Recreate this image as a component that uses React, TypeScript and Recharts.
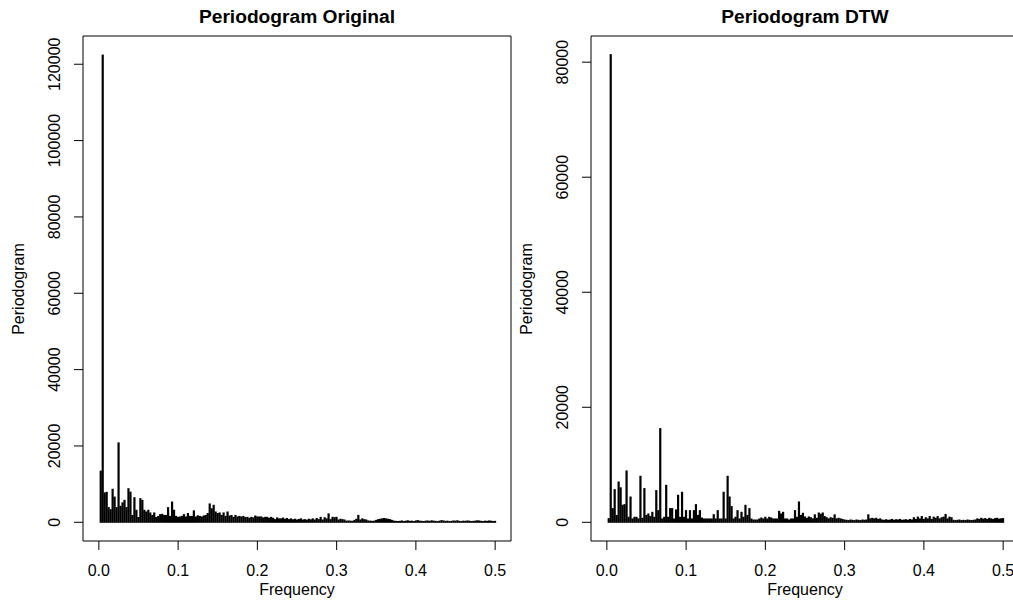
import { BarChart, Bar, XAxis, YAxis, ReferenceArea } from 'recharts';

// periodogram ordinates, one per Fourier frequency (step 0.0025, from 0.0025 to 0.5)
const FREQ_STEP = 0.0025;

const freqTicks = [0, 0.1, 0.2, 0.3, 0.4, 0.5];
const origTicks = [0, 20000, 40000, 60000, 80000, 100000, 120000];
const dtwTicks = [0, 20000, 40000, 60000, 80000];

const origPower = [
  13400, 122400, 7700, 7850, 3850, 3300, 8650, 6600, 3850, 20800,
  4200, 5100, 5750, 3850, 8800, 7900, 1800, 6450, 3150, 1250,
  6200, 5750, 3150, 2700, 3150, 2450, 1800, 2450, 1250, 1550,
  2000, 2100, 1800, 1800, 3850, 1550, 5300, 3150, 1550, 1300,
  1400, 1550, 2000, 1400, 2300, 1550, 1550, 3000, 1400, 1700,
  1550, 1400, 1650, 1800, 2300, 4800, 3550, 4450, 2700, 2300,
  2450, 1800, 2450, 1550, 2700, 1650, 1800, 1300, 1800, 1400,
  1550, 1400, 1550, 1250, 1300, 1050, 1300, 1150, 1650, 1400,
  1400, 1400, 1150, 1300, 1300, 1050, 1300, 1050, 700, 1150,
  900, 900, 1100, 800, 1000, 700, 900, 650, 800, 600,
  750, 900, 600, 700, 550, 800, 650, 900, 600, 1000,
  700, 1300, 600, 1200, 900, 2200, 700, 1300, 1200, 1300,
  600, 800, 700, 600, 300, 350, 300, 250, 500, 800,
  1800, 600, 900, 700, 600, 350, 300, 250, 300, 500,
  700, 800, 900, 1000, 900, 800, 700, 500, 300, 250,
  200, 250, 350, 200, 300, 400, 250, 300, 200, 350,
  450, 300, 250, 200, 300, 350, 250, 400, 300, 250,
  200, 300, 450, 350, 250, 300, 200, 250, 350, 300,
  400, 250, 200, 300, 250, 350, 300, 200, 250, 300,
  400, 350, 250, 200, 300, 250, 350, 300, 200, 250,
];

const dtwPower = [
  640, 81300, 2380, 5680, 1200, 7010, 6000, 2960, 3070, 8930,
  870, 4400, 580, 870, 870, 600, 8000, 700, 5860, 1200,
  1450, 1000, 1740, 870, 5510, 2030, 16290, 580, 870, 6430,
  870, 2380, 2380, 580, 2150, 4700, 870, 5220, 870, 2030,
  580, 2030, 580, 2030, 3070, 1200, 2030, 750, 580, 580,
  580, 580, 580, 1330, 580, 2030, 580, 580, 5220, 580,
  8000, 4400, 2730, 580, 870, 2030, 580, 1740, 870, 2960,
  1200, 2380, 580, 400, 400, 400, 580, 750, 580, 870,
  580, 870, 750, 580, 580, 580, 1910, 1450, 1740, 580,
  580, 400, 580, 580, 2030, 870, 3530, 1200, 1570, 930,
  700, 930, 800, 600, 1300, 700, 1620, 1400, 1620, 1000,
  800, 600, 800, 700, 1300, 600, 700, 600, 500, 400,
  350, 300, 400, 350, 300, 400, 350, 300, 400, 350,
  400, 1300, 600, 700, 600, 700, 500, 600, 400, 350,
  450, 350, 400, 500, 350, 450, 400, 500, 350, 400,
  450, 350, 500, 400, 800, 500, 900, 600, 1000, 500,
  800, 600, 1000, 500, 900, 700, 1000, 600, 800, 900,
  1370, 600, 900, 800, 350, 300, 350, 400, 300, 350,
  300, 400, 350, 300, 350, 400, 600, 500, 700, 550,
  650, 500, 700, 600, 500, 650, 700, 550, 600, 650,
];

const FONT = '"Liberation Sans", Arial, Helvetica, sans-serif';

const toRows = (power: number[]) =>
  power.map((p, i) => ({ freq: +(FREQ_STEP * (i + 1)).toFixed(4), power: p }));

const XTick = (props: any) => {
  const { x, payload } = props;
  return (
    <text x={x} y={576} textAnchor="middle" fontSize={16} fontFamily={FONT} fill="#000">
      {Number(payload.value).toFixed(1)}
    </text>
  );
};

const YTick = (props: any) => {
  const { y, payload } = props;
  return (
    <text
      x={55}
      y={y}
      transform={`rotate(-90 55 ${y})`}
      textAnchor="middle"
      dominantBaseline="central"
      fontSize={16}
      fontFamily={FONT}
      fill="#000"
    >
      {payload.value}
    </text>
  );
};

const AxisTitle = ({ px, py, text, vertical }: any) => (
  <text
    x={px}
    y={py}
    transform={vertical ? `rotate(-90 ${px} ${py})` : undefined}
    textAnchor="middle"
    dominantBaseline={vertical ? 'central' : 'auto'}
    fontSize={16}
    fontFamily={FONT}
    fill="#000"
  >
    {text}
  </text>
);

// R type="h" spike: a 2px-wide vertical stroke centred on the frequency
const Spike = (props: any) => {
  const { x, y, width, height } = props;
  if (height == null || Number.isNaN(height)) return null;
  const cx = x + width / 2;
  const top = Math.min(y, y + height);
  return <rect x={cx - 1.1} y={top - 0.5} width={2.2} height={Math.abs(height) + 1} fill="#000" />;
};

interface PanelProps {
  title: string;
  power: number[];
  yTicks: number[];
  yDomain: [number, number];
  left: number;
}

function Panel({ title, power, yTicks, yDomain, left }: PanelProps) {
  const data = toRows(power);
  return (
    <div style={{ position: 'absolute', left, top: 0, width: 520, height: 603 }}>
      <div
        style={{
          position: 'absolute',
          left: 83,
          width: 428,
          top: 7,
          lineHeight: '20px',
          textAlign: 'center',
          fontFamily: FONT,
          fontWeight: 'bold',
          fontSize: 19.2,
          color: '#000',
        }}
      >
        {title}
      </div>
      <BarChart
        width={520}
        height={603}
        data={data}
        margin={{ top: 36, right: 9, bottom: 0, left: 0 }}
      >
        <XAxis
          type="number"
          dataKey="freq"
          domain={[-0.02, 0.52]}
          ticks={freqTicks}
          allowDataOverflow
          height={62}
          tickSize={9}
          axisLine={false}
          tickLine={{ stroke: '#000' }}
          tick={<XTick />}
          label={<AxisTitle px={297} py={595} text="Frequency" />}
        />
        <YAxis
          type="number"
          domain={yDomain}
          ticks={yTicks}
          allowDataOverflow
          width={83}
          tickSize={9}
          axisLine={false}
          tickLine={{ stroke: '#000' }}
          tick={<YTick />}
          label={<AxisTitle px={18} py={289} text="Periodogram" vertical />}
        />
        <Bar
          dataKey="power"
          fill="#000"
          barSize={2}
          shape={<Spike />}
          isAnimationActive={false}
        />
        <ReferenceArea
          x1={-0.02}
          x2={0.52}
          y1={yDomain[0]}
          y2={yDomain[1]}
          fill="none"
          fillOpacity={0}
          stroke="#000"
          strokeWidth={1}
          ifOverflow="visible"
        />
      </BarChart>
    </div>
  );
}

export default function App() {
  return (
    <div
      style={{
        position: 'absolute',
        left: 0,
        top: 0,
        width: 1013,
        height: 603,
        overflow: 'hidden',
        background: '#fff',
      }}
    >
      <Panel
        title="Periodogram Original"
        power={origPower}
        yTicks={origTicks}
        yDomain={[-4900, 127400]}
        left={0}
      />
      <Panel
        title="Periodogram DTW"
        power={dtwPower}
        yTicks={dtwTicks}
        yDomain={[-3250, 84550]}
        left={508}
      />
    </div>
  );
}
